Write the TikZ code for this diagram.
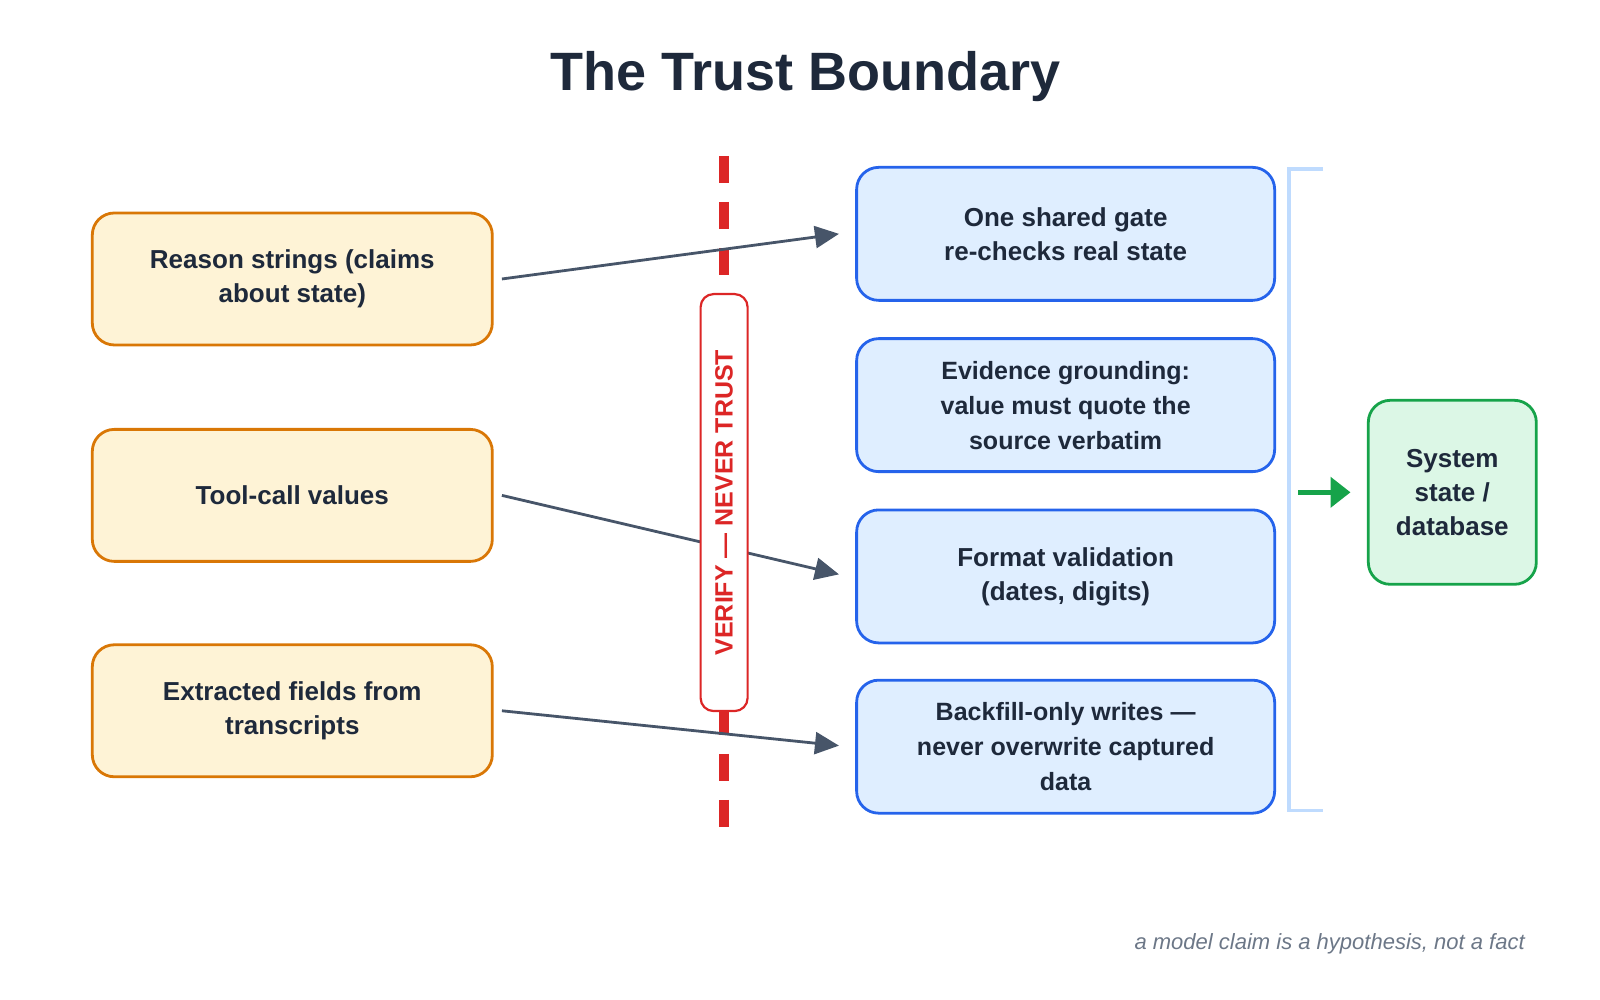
\documentclass[tikz,border=0pt]{standalone}
\usepackage{fontspec}
\setmainfont{Liberation Sans}
\usetikzlibrary{arrows.meta,calc}
\definecolor{ink}{HTML}{1E293B}
\definecolor{org}{HTML}{D97706}
\definecolor{orgf}{HTML}{FEF3D6}
\definecolor{blu}{HTML}{2563EB}
\definecolor{bluf}{HTML}{DFEEFF}
\definecolor{grn}{HTML}{16A34A}
\definecolor{grnf}{HTML}{DCF7E6}
\definecolor{red1}{HTML}{DC2626}
\definecolor{arr}{HTML}{475569}
\definecolor{brk}{HTML}{BFDBFE}
\begin{document}
\begin{tikzpicture}[x=1.0256pt,y=-1.0256pt,
 box/.style={rounded corners=22pt,line width=2.8pt,align=center,font=\fontsize{26}{34}\selectfont\bfseries,text=ink,inner sep=0pt},
 src/.style={box,draw=org,fill=orgf,minimum width=400pt,minimum height=132pt},
 chk/.style={box,draw=blu,fill=bluf,minimum width=418pt,minimum height=133pt},
 con/.style={draw=arr,line width=2.8pt,-{Triangle[length=24pt,width=22pt]}}]
\useasboundingbox (0,0) rectangle (1560,975);
\node[font=\fontsize{54}{58}\selectfont\bfseries,text=ink] (title) at (785,75) {The Trust Boundary};
\node[src] (s1) at (285,272) {Reason strings (claims\\about state)};
\node[src] (s2) at (285,483) {Tool-call values};
\node[src] (s3) at (285,693) {Extracted fields from\\transcripts};
\coordinate (l1) at (706,152); \coordinate (l2) at (706,818);
\draw[red1,line width=10pt,dash pattern=on 27pt off 19pt] (l1) -- (l2);
\node[chk] (c1) at (1039,228) {One shared gate\\re-checks real state};
\node[chk,font=\fontsize{25}{35}\selectfont\bfseries] (c2) at (1039,395) {Evidence grounding:\\value must quote the\\source verbatim};
\node[chk] (c3) at (1039,562) {Format validation\\(dates, digits)};
\node[chk,font=\fontsize{25}{35}\selectfont\bfseries] (c4) at (1039,728) {Backfill-only writes —\\never overwrite captured\\data};
\coordinate (t1) at (818,228); \coordinate (t3) at (818,560); \coordinate (t4) at (818,727);
\draw[con] (s1.east)++(8,0) coordinate (a1) -- (t1);
\draw[con] (s2.east)++(8,0) coordinate (a2) -- (t3);
\draw[con] (s3.east)++(8,0) coordinate (a3) -- (t4);
\node[draw=red1,fill=white,line width=2.2pt,rounded corners=13pt,rotate=90,minimum width=417pt,minimum height=47pt,inner sep=0pt,text=red1,font=\fontsize{25}{28}\selectfont\bfseries] (v) at (706,490) {VERIFY — NEVER TRUST};
\coordinate (b1) at (1290,165); \coordinate (b2) at (1257,165); \coordinate (b3) at (1257,790); \coordinate (b4) at (1290,790);
\draw[brk,line width=3.5pt] (b1) -- (b2) -- (b3) -- (b4);
\node[box,draw=grn,fill=grnf,minimum width=168pt,minimum height=184pt] (db) at (1416,480) {System\\state /\\database};
\coordinate (g1) at (1266,480);
\draw[grn,line width=4.5pt,-{Triangle[length=20pt,width=30pt]}] (g1) -- ($(db.west)+(-16,0)$);
\node[anchor=east,font=\fontsize{22}{26}\selectfont\itshape,text=arr!80] (note) at (1490,920) {a model claim is a hypothesis, not a fact};
\end{tikzpicture}
\end{document}
